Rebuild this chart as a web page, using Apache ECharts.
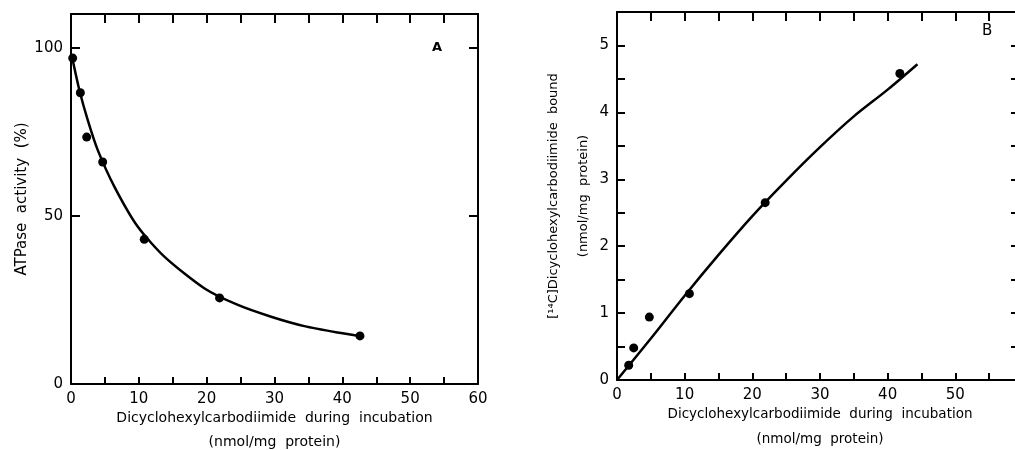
<!DOCTYPE html>
<html><head><meta charset="utf-8">
<script src="https://cdn.jsdelivr.net/npm/echarts@6/dist/echarts.min.js"></script>
<style>html,body{margin:0;padding:0;background:#fff}#c{width:1015px;height:450px}</style>
</head><body><div id="c"></div>
<script>
// Panel A: ATPase activity vs DCCD
const pointsAx = [0.25, 1.38, 2.31, 4.67, 10.8, 21.9, 42.6];
const pointsAy = [96.9, 86.6, 73.4, 66.0, 43.0, 25.6, 14.3];
const curveAx = [0.25, 1.23, 2.46, 3.93, 6.39, 9.83, 13.8, 19.7, 24.6, 29.5, 34.4, 39.3, 42.5];
const curveAy = [96.3, 87.4, 78.5, 69.6, 58.7, 46.8, 37.8, 28.4, 23.5, 20.0, 17.2, 15.3, 14.3];
// Panel B: [14C]DCCD bound vs DCCD
const pointsBx = [1.73, 2.47, 4.78, 10.7, 21.9, 41.8];
const pointsBy = [0.22, 0.48, 0.94, 1.29, 2.65, 4.58];
const curveBx = [0, 5, 10, 15, 20, 25, 30, 35, 40, 44.4];
const curveBy = [0, 0.62, 1.26, 1.87, 2.45, 2.98, 3.48, 3.94, 4.34, 4.72];
const xTicksA = [0, 10, 20, 30, 40, 50, 60];
const xTicksB = [0, 10, 20, 30, 40, 50];
const yTicksA = [0, 50, 100];
const yTicksB = [0, 1, 2, 3, 4, 5];
const xTitle = 'Dicyclohexylcarbodiimide  during  incubation\n(nmol/mg  protein)';
const yTitleA = 'ATPase  activity  (%)';
const yTitleB = '[¹⁴C]Dicyclohexylcarbodiimide  bound\n(nmol/mg  protein)';

const zip = (a, b) => a.map((v, i) => [v, b[i]]);
const FONT = 'DejaVu Sans';
const line = {show: true, onZero: false, lineStyle: {color: '#000', width: 2}};
const tickIn = (len) => ({show: true, inside: true, length: len, lineStyle: {color: '#000', width: 2}});
const lbl = (list) => ({show: true, color: '#000', fontFamily: FONT, fontSize: 15, margin: 8,
  formatter: v => list.indexOf(Math.round(v * 1000) / 1000) >= 0 ? String(v) : ''});

const chart = echarts.init(document.getElementById('c'));
chart.setOption({
  animation: false,
  backgroundColor: '#fff',
  grid: [
    {left: 71, width: 407, top: 14, bottom: 66, containLabel: false, outerBoundsMode: 'none'},
    {left: 617, width: 406, top: 12, bottom: 70, containLabel: false, outerBoundsMode: 'none'}
  ],
  xAxis: [
    {gridIndex: 0, type: 'value', min: 0, max: 60, interval: 5, position: 'bottom',
     axisLine: line, axisTick: tickIn(7), splitLine: {show: false}, axisLabel: lbl(xTicksA),
     name: xTitle, nameLocation: 'middle', nameGap: 22, nameMoveOverlap: false,
     nameTextStyle: {color: '#000', fontFamily: FONT, fontSize: 14, lineHeight: 24, verticalAlign: 'top'}},
    {gridIndex: 0, type: 'value', min: 0, max: 60, interval: 5, position: 'top',
     axisLine: line, axisTick: tickIn(9), splitLine: {show: false}, axisLabel: {show: false}},
    {gridIndex: 1, type: 'value', min: 0, max: 60, interval: 5, position: 'bottom',
     axisLine: line, axisTick: tickIn(7), splitLine: {show: false}, axisLabel: lbl(xTicksB),
     name: xTitle, nameLocation: 'middle', nameGap: 22, nameMoveOverlap: false,
     nameTextStyle: {color: '#000', fontFamily: FONT, fontSize: 13.5, lineHeight: 25, verticalAlign: 'top'}},
    {gridIndex: 1, type: 'value', min: 0, max: 60, interval: 5, position: 'top',
     axisLine: line, axisTick: tickIn(9), splitLine: {show: false}, axisLabel: {show: false}}
  ],
  yAxis: [
    {gridIndex: 0, type: 'value', min: 0, max: 110, interval: 50, position: 'left',
     axisLine: line, axisTick: tickIn(9), splitLine: {show: false}, axisLabel: lbl(yTicksA),
     name: yTitleA, nameLocation: 'middle', nameGap: 41, nameRotate: 90, nameMoveOverlap: false,
     nameTextStyle: {color: '#000', fontFamily: FONT, fontSize: 15}},
    {gridIndex: 0, type: 'value', min: 0, max: 110, interval: 50, position: 'right',
     axisLine: line, axisTick: tickIn(9), splitLine: {show: false}, axisLabel: {show: false}},
    {gridIndex: 1, type: 'value', min: 0, max: 5.5, interval: 0.5, position: 'left',
     axisLine: line, axisTick: tickIn(8), splitLine: {show: false}, axisLabel: lbl(yTicksB),
     name: yTitleB, nameLocation: 'middle', nameGap: 18, nameRotate: 90, nameMoveOverlap: false,
     nameTextStyle: {color: '#000', fontFamily: FONT, fontSize: 13, lineHeight: 30}},
    {gridIndex: 1, type: 'value', min: 0, max: 5.5, interval: 0.5, position: 'right',
     axisLine: line, axisTick: tickIn(12), splitLine: {show: false}, axisLabel: {show: false}}
  ],
  series: [
    {type: 'line', xAxisIndex: 0, yAxisIndex: 0, data: zip(curveAx, curveAy), smooth: 0.25,
     showSymbol: false, lineStyle: {color: '#000', width: 2.5}, silent: true},
    {type: 'scatter', xAxisIndex: 0, yAxisIndex: 0, data: zip(pointsAx, pointsAy),
     symbolSize: 9, itemStyle: {color: '#000', opacity: 1}},
    {type: 'line', xAxisIndex: 2, yAxisIndex: 2, data: zip(curveBx, curveBy), smooth: 0.3,
     showSymbol: false, lineStyle: {color: '#000', width: 2.5}, silent: true},
    {type: 'scatter', xAxisIndex: 2, yAxisIndex: 2, data: zip(pointsBx, pointsBy),
     symbolSize: 9, itemStyle: {color: '#000', opacity: 1}}
  ],
  graphic: [
    {type: 'text', left: 432, top: 41, style: {text: 'A', font: 'bold 13px "DejaVu Sans"', fill: '#000'}},
    {type: 'text', left: 982, top: 24, style: {text: 'B', font: '15px "DejaVu Sans"', fill: '#000'}}
  ]
});
</script></body></html>
